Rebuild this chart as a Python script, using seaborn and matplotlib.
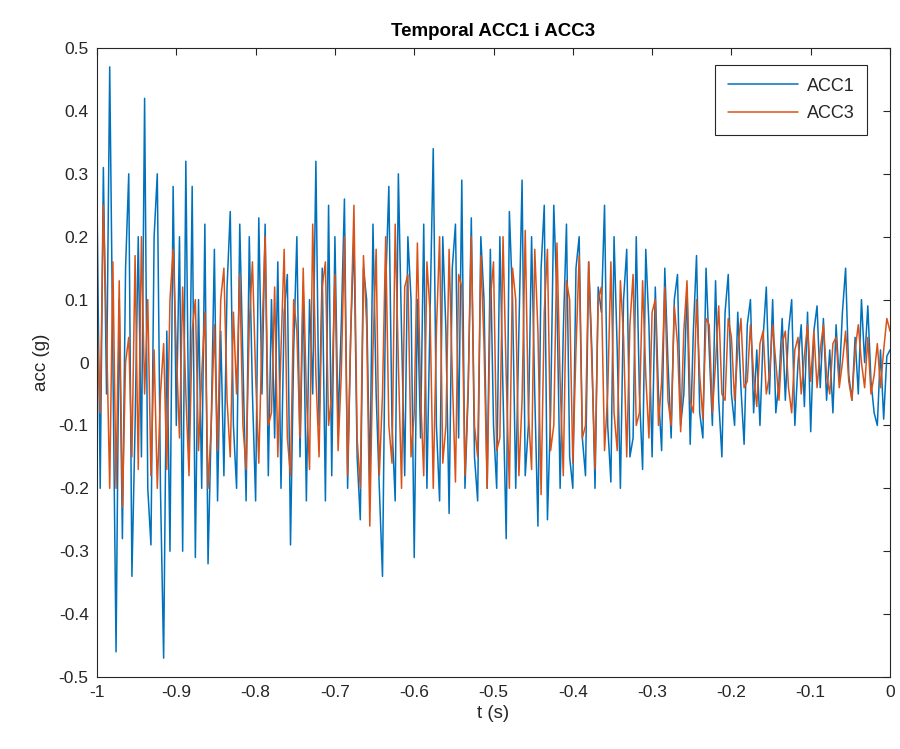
import numpy as np
import pandas as pd
import matplotlib
matplotlib.use("Agg")
import matplotlib.pyplot as plt
import seaborn as sns

t_start, t_end = -1.0, 0.0

acc1 = [
    0.26, -0.20, 0.31, -0.05, 0.47, 0.00, -0.46, 0.10, -0.28, 0.15, 0.30, -0.34, -0.10, 0.20, -0.15, 0.42, -0.20, -0.29, 0.20, 0.30, -0.20, -0.47, 0.05, -0.30, 0.28,
    -0.10, 0.20, -0.30, 0.32, -0.15, 0.28, -0.31, 0.10, -0.20, 0.22, -0.32, -0.10, 0.18, -0.22, 0.05, -0.18, 0.12, 0.24, -0.10, -0.20, 0.22, 0.00, -0.22, 0.20, -0.05,
    -0.22, 0.23, -0.05, 0.22, -0.18, 0.10, -0.12, 0.16, -0.20, 0.08, 0.14, -0.29, 0.02, 0.20, -0.15, 0.12, -0.22, 0.10, -0.05, 0.32, -0.10, 0.15, -0.22, 0.25, -0.18,
    0.20, -0.10, 0.06, 0.26, -0.20, 0.05, 0.20, -0.15, -0.25, 0.15, 0.10, -0.20, 0.22, -0.05, -0.20, -0.34, 0.12, 0.28, -0.10, -0.22, 0.30, 0.05, -0.18, 0.20, 0.10,
    -0.31, 0.10, -0.12, 0.22, -0.20, 0.08, 0.34, -0.10, -0.22, 0.20, 0.05, -0.24, 0.15, 0.22, -0.12, 0.29, -0.20, -0.05, 0.23, -0.15, -0.22, 0.20, 0.10, -0.20, 0.18,
    -0.10, -0.20, 0.20, -0.05, -0.28, 0.24, 0.10, -0.20, 0.05, 0.29, -0.18, -0.10, 0.20, -0.05, -0.26, 0.15, 0.25, -0.25, -0.08, 0.25, 0.10, -0.20, 0.05, 0.22, -0.15,
    -0.20, 0.15, 0.20, -0.12, -0.18, 0.16, 0.02, -0.20, 0.12, 0.08, 0.25, -0.10, -0.19, 0.20, 0.02, -0.20, 0.10, 0.18, -0.15, -0.12, 0.20, -0.05, -0.17, 0.18, 0.06,
    -0.15, 0.12, -0.05, -0.14, 0.15, 0.00, -0.12, 0.10, 0.14, -0.10, -0.05, 0.12, -0.13, 0.05, 0.17, -0.08, -0.12, 0.15, 0.02, -0.10, 0.13, -0.06, -0.15, 0.08, 0.14,
    -0.05, -0.10, 0.08, -0.04, -0.13, 0.06, 0.10, -0.08, 0.02, -0.10, 0.04, 0.12, -0.05, 0.10, -0.08, -0.03, 0.07, -0.06, 0.05, 0.10, -0.10, 0.00, 0.06, -0.07, 0.08,
    -0.11, 0.05, 0.09, -0.04, 0.07, -0.06, 0.02, -0.08, 0.06, -0.03, 0.08, 0.15, -0.02, -0.06, 0.04, -0.05, 0.10, 0.00, 0.09, -0.03, -0.08, -0.10, 0.02, -0.09, 0.01, 0.02,
]

acc3 = [
    0.07, -0.08, 0.25, 0.05, -0.20, 0.16, -0.20, 0.13, -0.23, 0.00, 0.04, -0.15, 0.17, -0.17, 0.20, -0.05, 0.10, -0.18, 0.02, -0.20, -0.05, 0.03, -0.17, 0.10, 0.18,
    0.02, -0.12, 0.12, -0.05, -0.18, 0.05, 0.10, -0.14, -0.02, 0.08, -0.20, -0.10, 0.06, -0.14, 0.10, 0.15, -0.06, -0.15, 0.08, -0.05, 0.14, -0.10, -0.17, 0.06, 0.16,
    -0.02, -0.16, 0.04, 0.20, -0.10, -0.08, 0.12, -0.15, 0.02, 0.18, -0.12, -0.18, 0.10, 0.05, -0.12, 0.15, -0.05, -0.17, 0.22, -0.02, -0.15, 0.12, 0.16, -0.10, -0.05,
    0.14, -0.14, -0.02, 0.20, -0.18, 0.05, 0.25, -0.12, -0.20, 0.17, 0.06, -0.26, 0.02, 0.18, -0.18, -0.05, 0.20, -0.10, -0.16, 0.22, 0.00, -0.20, 0.12, 0.14, -0.15,
    -0.08, 0.19, -0.05, -0.18, 0.16, 0.08, -0.20, 0.05, 0.20, -0.16, -0.10, 0.18, -0.02, -0.19, 0.14, 0.12, -0.18, -0.04, 0.20, -0.10, -0.15, 0.17, 0.03, -0.20, 0.10,
    0.16, -0.14, -0.12, 0.20, -0.02, -0.20, 0.15, 0.10, -0.18, -0.06, 0.21, -0.08, -0.17, 0.18, 0.05, -0.21, 0.08, 0.18, -0.14, -0.10, 0.19, -0.03, -0.18, 0.13, 0.10,
    -0.16, 0.02, 0.17, -0.12, -0.10, 0.16, 0.00, -0.17, 0.10, 0.12, -0.14, -0.05, 0.16, -0.08, -0.14, 0.13, 0.04, -0.15, 0.06, 0.14, -0.10, -0.08, 0.13, -0.02, -0.12,
    0.08, 0.10, -0.10, -0.03, 0.12, -0.06, -0.10, 0.09, 0.03, -0.11, 0.05, 0.13, -0.06, -0.08, 0.10, -0.02, -0.09, 0.07, 0.06, -0.08, 0.00, 0.09, -0.05, -0.06, 0.07,
    0.04, -0.06, 0.02, 0.07, -0.04, -0.03, 0.06, -0.02, -0.07, 0.03, 0.05, -0.05, -0.02, 0.06, 0.00, -0.06, 0.03, 0.05, -0.04, -0.08, 0.02, 0.04, -0.05, 0.01, 0.06,
    -0.03, 0.05, -0.04, 0.02, 0.06, -0.02, -0.05, 0.03, 0.04, -0.04, 0.00, 0.05, -0.03, -0.06, 0.02, 0.06, 0.00, -0.04, 0.04, -0.05, -0.02, 0.03, -0.04, 0.02, 0.07, 0.05,
]

series_names = ["ACC1", "ACC3"]
title_text = "Temporal ACC1 i ACC3"
xlabel_text = "t (s)"
ylabel_text = "acc (g)"
xticks = [-1, -0.9, -0.8, -0.7, -0.6, -0.5, -0.4, -0.3, -0.2, -0.1, 0]
yticks = [-0.5, -0.4, -0.3, -0.2, -0.1, 0, 0.1, 0.2, 0.3, 0.4, 0.5]

t = np.linspace(t_start, t_end, len(acc1))
df = pd.DataFrame({"t": np.concatenate([t, t]),
                   "acc": np.concatenate([acc1, acc3]),
                   "serie": [series_names[0]] * len(acc1) + [series_names[1]] * len(acc3)})

sns.set_style("white")
plt.rcParams["font.family"] = ["Liberation Sans", "DejaVu Sans"]

fig = plt.figure(figsize=(9, 7.49), dpi=100)
ax = fig.add_axes([0.1078, 0.0961, 0.8811, 0.8398])

sns.lineplot(data=df, x="t", y="acc", hue="serie", palette=["#0072BD", "#D95319"],
             estimator=None, sort=False, linewidth=1.1, ax=ax)

ax.set_xlim(-1, 0)
ax.set_ylim(-0.5, 0.5)
ax.set_xticks(xticks)
ax.set_xticklabels([("%g" % v) for v in xticks])
ax.set_yticks(yticks)
ax.set_yticklabels([("%g" % v) for v in yticks])
ax.tick_params(direction="in", length=5, width=0.8, labelsize=12.5, colors="#262626",
               top=True, right=True, pad=6)
for s in ax.spines.values():
    s.set_color("#262626")
    s.set_linewidth(0.8)
ax.set_xlabel(xlabel_text, fontsize=13.5, color="#262626", labelpad=3)
ax.set_ylabel(ylabel_text, fontsize=13.5, color="#262626", labelpad=6)
ax.set_title(title_text, fontsize=13.5, fontweight="bold", color="black", pad=9)

leg = ax.legend(loc="upper right", bbox_to_anchor=(0.971, 0.973), fontsize=13,
                frameon=True, fancybox=False, edgecolor="#262626", framealpha=1,
                handlelength=3.9, borderpad=0.7, labelspacing=0.6, handletextpad=0.45,
                borderaxespad=0)
leg.get_frame().set_linewidth(0.8)
for line in leg.get_lines():
    line.set_linewidth(1.1)

fig.savefig("out.png", dpi=100)
